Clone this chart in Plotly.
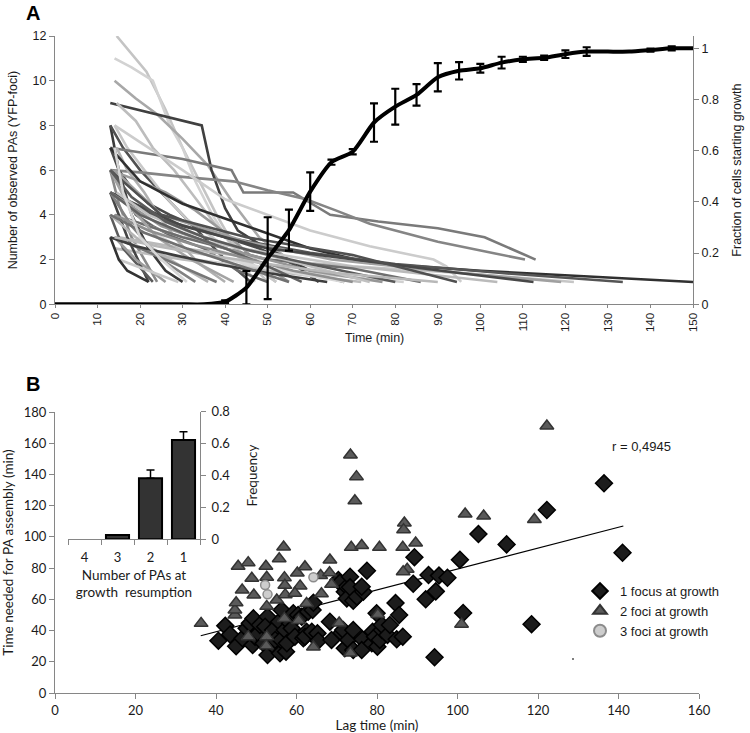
import plotly.graph_objects as go

W, H = 750, 733

# ---------------- Panel A data ----------------
# Fraction of cells starting growth (right axis), every 5 min
frac_time = [0, 5, 10, 15, 20, 25, 30, 35, 40, 45, 50, 55, 60, 65, 70, 75, 80, 85, 90, 95,
             100, 105, 110, 115, 120, 125, 130, 135, 140, 145, 150]
frac_value = [0, 0, 0, 0, 0, 0, 0, 0, 0.01, 0.065, 0.18, 0.29, 0.44, 0.555, 0.596, 0.71, 0.772,
              0.818, 0.887, 0.912, 0.922, 0.944, 0.957, 0.963, 0.977, 0.987, 0.987, 0.987,
              0.993, 1.0, 1.0]
frac_err = [None, None, None, None, None, None, None, None, 0.005, 0.065, 0.16, 0.08, 0.075,
            0.01, 0.01, 0.075, 0.07, 0.042, 0.055, 0.034, 0.017, 0.023, 0.01, 0.008, 0.015,
            0.017, None, None, 0.006, 0.008, None]

# Number of observed PAs per cell over time (left axis): (times, counts)
pa_lines = [
    ([14.5, 21.5, 26, 30, 34, 38, 41, 45, 50], [12, 10.4, 8.7, 7, 5.5, 4, 3, 2, 1]),
    ([14, 18, 23, 27, 30, 33, 37, 42, 47], [11, 10.6, 10, 8, 7, 5.5, 4, 2.5, 1]),
    ([14, 19, 24, 30, 36, 42, 48, 55, 62], [10, 9.2, 8.5, 7.4, 6.2, 4.5, 3, 2, 1]),
    ([13, 34.5, 36.8, 40, 43, 48, 55, 62, 68], [9, 8, 6, 4.3, 3.3, 2.7, 2, 1.3, 1]),
    ([14.5, 19, 23, 28, 32, 36, 40, 45, 52], [9, 8.2, 7, 6, 5, 4, 3, 2, 1]),
    ([13, 15, 18, 22, 26, 30], [8, 6, 4, 2.5, 1.5, 1]),
    ([13, 16, 20, 25, 30, 35, 40, 46], [8, 7, 6, 5, 4, 3, 2, 1]),
    ([14, 17, 21, 26, 31, 37, 44, 52], [8, 7, 6, 4.8, 3.8, 3, 2, 1]),
    ([13, 30, 41.5, 44.3, 56, 64.7, 76, 90, 101, 113], [7, 6.5, 6, 5, 5, 4, 3.7, 3.4, 3, 2]),
    ([13, 20, 30, 42, 50, 59, 66, 74, 90, 110.5], [6, 5.9, 5.7, 5.5, 5.1, 4.7, 4.2, 3.6, 2.8, 2]),
    ([13, 15, 18, 22, 27, 33, 40, 48, 56, 62], [7, 6, 5.2, 4.5, 4, 3.5, 3, 2.5, 1.8, 1]),
    ([14.5, 17, 21, 25, 29, 34, 40], [7, 6, 5, 3.8, 2.8, 1.8, 1]),
    ([13, 16, 19, 23, 28, 35, 43, 50], [6, 5, 4, 3.5, 3, 2.5, 1.5, 1]),
    ([13, 15, 18, 21, 24], [6, 4.5, 3, 2, 1]),
    ([13, 20, 26, 33, 40, 47, 55], [6, 5.5, 5, 4.2, 3.2, 2, 1]),
    ([14, 22, 30, 40, 50, 60, 74, 89, 92, 95.5], [8, 7, 6, 4.7, 4, 3.3, 2.6, 2, 1.7, 1]),
    ([13, 20, 30, 45, 60, 74, 100, 140, 150], [7, 5.5, 4.5, 3.5, 2.5, 1.85, 1.5, 1.1, 1]),
    ([13, 25, 40, 60, 80, 105, 133.5], [5, 3.8, 3, 2.3, 1.8, 1.4, 1]),
    ([14, 30, 50, 70, 95, 122], [4, 3, 2.3, 1.7, 1.4, 1]),
    ([14, 25, 45, 65, 90, 119], [6, 4, 2.8, 2, 1.5, 1]),
    ([13, 30, 50, 70, 95, 112.5], [5, 3.5, 2.5, 2, 1.4, 1]),
    ([15, 30, 50, 75, 104], [3, 2.5, 2, 1.6, 1]),
    ([13, 25, 45, 70, 94.5], [6, 4, 3, 2.2, 1]),
    ([14, 30, 50, 70, 86], [4, 3, 2, 1.6, 1]),
    ([14, 25, 45, 65, 82], [3, 2.2, 1.7, 1.3, 1]),
    ([13, 25, 40, 60, 77], [5, 3.5, 2.5, 1.5, 1]),
    ([14, 30, 50, 72], [2.5, 2, 1.5, 1]),
    ([15, 30, 45, 68], [4, 2.5, 1.8, 1]),
    ([13, 17, 22], [5, 3, 1]),
    ([13, 16, 23], [4, 2.5, 1]),
    ([14, 19, 26], [3, 2, 1]),
    ([15, 22, 29], [2, 1.5, 1]),
    ([13, 18, 25, 33], [5, 3.5, 2, 1]),
    ([13, 19, 27, 36], [4, 3, 2, 1]),
    ([14, 20, 28, 38], [3, 2.5, 1.8, 1]),
    ([13, 17, 24, 32, 42], [6, 4.5, 3, 2, 1]),
    ([13, 20, 30, 40, 50, 58], [5, 4, 3.2, 2.5, 1.7, 1]),
    ([14, 22, 32, 44, 56, 70], [4, 3.3, 2.7, 2.1, 1.5, 1]),
    ([13, 19, 28, 38, 50, 64], [3, 2.6, 2.2, 1.8, 1.4, 1]),
    ([14.5, 22, 32, 44, 58, 74], [5, 4, 3.2, 2.5, 1.8, 1]),
    ([13, 18, 26, 35, 46, 60, 80], [6, 4.8, 3.7, 3, 2.4, 1.8, 1]),
    ([14, 24, 36, 50, 66, 90], [3, 2.6, 2.2, 1.8, 1.4, 1]),
    ([13, 21, 31, 42, 55], [4, 3.2, 2.5, 1.8, 1]),
    ([14, 16, 20, 25, 31], [7, 5, 3, 2, 1]),
    ([13, 15, 17, 22], [3, 2, 1.5, 1]),
]
pa_line_colors = [
    "#c4c4c4", "#d2d2d2", "#a8a8a8", "#404040", "#bdbdbd", "#3a3a3a", "#505050", "#c8c8c8",
    "#7a7a7a", "#858585", "#4a4a4a", "#b0b0b0", "#6a6a6a", "#8a8a8a", "#9a9a9a", "#cccccc",
    "#303030", "#555555", "#c6c6c6", "#a0a0a0", "#474747", "#bababa", "#505050", "#6e6e6e",
    "#d0d0d0", "#969696", "#bcbcbc", "#d8d8d8", "#454545", "#5c5c5c", "#9c9c9c", "#c9c9c9",
    "#828282", "#b5b5b5", "#777777", "#a4a4a4", "#626262", "#8e8e8e", "#3e3e3e", "#c0c0c0",
    "#5a5a5a", "#b8b8b8", "#707070", "#d6d6d6", "#333333",
]

# ---------------- Panel B data ----------------
one_focus_lag = [40.6, 42.3, 43.5, 45.0, 46.6, 47.6, 48.4, 49.3, 49.1, 49.7, 50.5, 50.9, 51.8, 52.8,
                 52.2, 52.8, 53.8, 54.2, 54.5, 54.7, 55.7, 55.9, 56.3, 56.1, 57.1, 57.4, 57.6, 58.4,
                 58.8, 59.2, 59.6, 60.4, 61.3, 61.7, 62.5, 62.9, 62.1, 63.8, 64.0, 64.2, 65.2, 65.4,
                 68.3, 68.7, 70.4, 70.8, 71.2, 71.6, 72.0, 72.5, 72.5, 72.0, 72.9, 73.3, 73.3, 74.1,
                 74.1, 74.1, 75.0, 76.6, 76.2, 76.4, 76.2, 77.5, 78.7, 78.9, 79.5, 79.9, 80.1, 80.7,
                 81.2, 81.2, 82.6, 83.2, 84.6, 85.5, 84.9, 86.4, 89.3, 89.0, 92.1, 92.8, 94.6, 95.4,
                 97.5, 94.3, 100.6, 101.4, 105.2, 112.2, 118.4, 122.2, 136.4, 141.0]
one_focus_time = [33.5, 43.0, 37.5, 30.0, 35.0, 41.4, 44.6, 47.8, 30.7, 36.1, 38.2, 43.6, 31.8, 48.9,
                  42.5, 24.3, 37.2, 40.4, 29.7, 34.0, 45.7, 25.4, 53.2, 34.0, 40.4, 26.5, 31.8, 44.6,
                  41.4, 51.1, 36.1, 50.0, 48.9, 35.0, 39.3, 52.1, 36.1, 39.3, 53.2, 57.8, 38.2, 33.5,
                  45.7, 34.0, 72.4, 70.7, 38.6, 40.4, 64.9, 68.1, 60.6, 28.6, 34.0, 74.5, 67.7, 59.1,
                  40.4, 27.5, 61.7, 64.9, 68.1, 34.4, 27.5, 78.3, 31.8, 39.3, 36.1, 51.1, 29.7, 34.0,
                  40.4, 43.6, 37.2, 43.6, 57.6, 50.0, 34.4, 36.1, 87.0, 70.0, 60.0, 75.6, 65.1, 75.2,
                  73.8, 22.9, 85.4, 51.3, 101.8, 95.2, 44.1, 117.2, 134.3, 89.9]

two_foci_lag = [36.3, 44.7, 44.7, 45.0, 45.5, 46.5, 48.0, 48.0, 48.9, 49.4, 52.4, 52.6, 52.6, 52.6,
                52.5, 55.1, 55.7, 56.8, 57.0, 57.1, 57.2, 57.0, 60.2, 60.9, 59.6, 60.5, 62.1, 62.5,
                64.2, 66.0, 66.2, 68.3, 68.2, 68.7, 70.6, 73.4, 73.4, 74.9, 74.5, 73.6, 76.2, 80.6,
                86.4, 86.8, 86.6, 89.6, 87.5, 86.5, 80.2, 101.9, 106.5, 119.1, 101.0, 122.2]
two_foci_time = [44.6, 50.0, 53.2, 57.8, 81.2, 66.0, 83.5, 36.1, 73.5, 62.8, 81.2, 74.2, 55.5, 36.1,
                 30.2, 59.6, 86.0, 93.5, 73.9, 69.0, 63.0, 47.8, 76.9, 68.6, 63.9, 46.5, 80.9, 57.3,
                 29.5, 75.3, 63.6, 85.2, 77.0, 69.6, 44.8, 25.6, 152.5, 138.6, 123.2, 93.3, 94.5, 93.3,
                 93.3, 108.9, 104.6, 96.1, 79.3, 77.7, 50.3, 114.7, 113.4, 111.1, 44.1, 171.0]

three_foci_lag = [52.2, 52.8, 64.2]
three_foci_time = [69.2, 63.2, 74.1]

trend_lag = [36.2, 141.2]
trend_time = [36.7, 107.0]
stray_lag = [128.7]
stray_time = [21.8]

# Inset: frequency of number of PAs at growth resumption
pa_categories = ["4", "3", "2", "1"]
pa_frequency = [None, 0.027, 0.383, 0.623]
pa_freq_err = [0, 0, 0.051, 0.052]

# ---------------- Figure ----------------
ARIAL = "Liberation Sans, Arial, sans-serif"
CALI = "Lato, Open Sans, sans-serif"
AXC = "#868686"
TXT = "#1a1a1a"

fig = go.Figure()

for (t, v), col in zip(pa_lines, pa_line_colors):
    fig.add_trace(go.Scatter(x=t, y=v, mode="lines", line=dict(color=col, width=2.6),
                             xaxis="x", yaxis="y", showlegend=False, hoverinfo="skip"))

fig.add_trace(go.Scatter(
    x=frac_time, y=frac_value, mode="lines", xaxis="x", yaxis="y2",
    line=dict(color="black", width=4, shape="spline", smoothing=0.6),
    error_y=dict(type="data", array=frac_err, visible=True, color="black", thickness=2.2, width=4),
    showlegend=False))

# Panel B scatter
fig.add_trace(go.Scatter(x=trend_lag, y=trend_time, mode="lines", xaxis="x3", yaxis="y3",
                         line=dict(color="black", width=1.2), showlegend=False))
fig.add_trace(go.Scatter(x=one_focus_lag, y=one_focus_time, mode="markers", xaxis="x3", yaxis="y3",
                         name="1 focus at growth",
                         marker=dict(symbol="diamond", size=13, color="#1c1c1c",
                                     line=dict(color="#000000", width=1.5))))
fig.add_trace(go.Scatter(x=two_foci_lag, y=two_foci_time, mode="markers", xaxis="x3", yaxis="y3",
                         name="2 foci at growth",
                         marker=dict(symbol="triangle-up", size=12, color="#5a5a5a",
                                     line=dict(color="#333333", width=1.5))))
fig.add_trace(go.Scatter(x=three_foci_lag, y=three_foci_time, mode="markers", xaxis="x3", yaxis="y3",
                         name="3 foci at growth",
                         marker=dict(symbol="circle", size=9, color="#cdcdcd",
                                     line=dict(color="#8c8c8c", width=1.5))))
fig.add_trace(go.Scatter(x=stray_lag, y=stray_time, mode="markers", xaxis="x3", yaxis="y3",
                         marker=dict(size=2, color="#555"), showlegend=False))

# Inset bars
fig.add_trace(go.Bar(x=pa_categories, y=pa_frequency, xaxis="x4", yaxis="y4",
                     marker=dict(color="#333333", line=dict(color="black", width=2)),
                     error_y=dict(type="data", array=pa_freq_err, symmetric=False,
                                  arrayminus=[0, 0, 0, 0], color="black", thickness=1.5, width=4),
                     showlegend=False))


def dx(p):
    return p / W


def dy(p):
    return 1 - p / H


axis_common = dict(showline=True, linecolor=AXC, linewidth=1, ticks="outside", tickcolor=AXC,
                   ticklen=5, showgrid=False, zeroline=False, automargin=False)
axis_a_x = dict(axis_common, ticklen=3)

fig.update_layout(
    width=W, height=H, margin=dict(l=0, r=0, t=0, b=0, autoexpand=False),
    paper_bgcolor="white", plot_bgcolor="white",
    bargap=0.3,
    xaxis=dict(domain=[dx(55), dx(693)], anchor="y", range=[0, 150],
               tickmode="array", tickvals=list(range(0, 151, 10)), tickangle=-90,
               tickfont=dict(family=ARIAL, size=11.5, color=TXT),
               **axis_a_x),
    yaxis=dict(domain=[dy(304.3), dy(36)], anchor="x", range=[0, 12], dtick=2,
               tickfont=dict(family=ARIAL, size=12.5, color=TXT),
               title=dict(text="Number of observed PAs (YFP-foci)",
                          font=dict(family=ARIAL, size=12.5, color=TXT), standoff=12),
               **axis_common),
    yaxis2=dict(overlaying="y", side="right", anchor="x", range=[0, 1.048],
                tickmode="array", tickvals=[0, 0.2, 0.4, 0.6, 0.8, 1],
                ticktext=["0", "0.2", "0.4", "0.6", "0.8", "1"],
                tickfont=dict(family=ARIAL, size=12.5, color=TXT),
                title=dict(text="Fraction of cells starting growth",
                           font=dict(family=ARIAL, size=12.5, color=TXT), standoff=14),
                **axis_common),
    xaxis3=dict(domain=[dx(55), dx(699)], anchor="y3", range=[0, 160], dtick=20,
                tickfont=dict(family=CALI, size=13, color=TXT),
                title=dict(text="Lag time (min)", font=dict(family=CALI, size=13.5, color=TXT), standoff=1),
                **axis_common),
    yaxis3=dict(domain=[dy(693), dy(412)], anchor="x3", range=[0, 180], dtick=20,
                tickfont=dict(family=CALI, size=13, color=TXT),
                title=dict(text="Time needed for PA assembly (min)",
                           font=dict(family=CALI, size=13.5, color=TXT), standoff=8),
                **axis_common),
    xaxis4=dict(domain=[dx(68), dx(200)], anchor="y4", type="category",
                categoryorder="array", categoryarray=pa_categories, tickson="boundaries",
                tickfont=dict(family=CALI, size=13, color=TXT), ticklabelstandoff=6,
                title=dict(text="Number of PAs at<br>growth  resumption",
                           font=dict(family=CALI, size=13.5, color=TXT), standoff=6),
                **axis_common),
    yaxis4=dict(domain=[dy(539.3), dy(411.7)], anchor="x4", side="right", range=[0, 0.8],
                tickmode="array", tickvals=[0, 0.2, 0.4, 0.6, 0.8],
                ticktext=["0", "0.2", "0.4", "0.6", "0.8"],
                tickfont=dict(family=CALI, size=13, color=TXT), ticklabelstandoff=3,
                title=dict(text="Frequency", font=dict(family=CALI, size=13.5, color=TXT), standoff=18),
                **axis_common),
    legend=dict(x=dx(580), y=dy(576), xanchor="left", yanchor="top",
                font=dict(family=ARIAL, size=13, color=TXT), bgcolor="rgba(0,0,0,0)",
                tracegroupgap=0, itemsizing="constant"),
    annotations=[
        dict(text="<b>A</b>", x=dx(24), y=dy(13), xref="paper", yref="paper", showarrow=False,
             font=dict(family=ARIAL, size=20, color="black"), xanchor="left", yanchor="middle"),
        dict(text="<b>B</b>", x=dx(24), y=dy(384), xref="paper", yref="paper", showarrow=False,
             font=dict(family=ARIAL, size=20, color="black"), xanchor="left", yanchor="middle"),
        dict(text="Time (min)", x=dx(374), y=dy(338), xref="paper", yref="paper", showarrow=False,
             font=dict(family=ARIAL, size=12.5, color=TXT), xanchor="center", yanchor="middle"),
        dict(text="r = 0,4945", x=dx(610), y=dy(446), xref="paper", yref="paper", showarrow=False,
             font=dict(family=ARIAL, size=13, color=TXT), xanchor="left", yanchor="middle"),
    ],
)

fig.write_html("out.html", config={"displayModeBar": False},
               post_script="document.body.style.margin='0';document.body.style.overflow='hidden';")
